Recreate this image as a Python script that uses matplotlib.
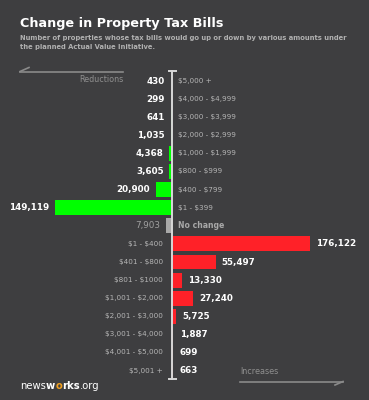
import matplotlib.pyplot as plt

plt.rcParams['text.parse_math'] = False

# reductions (top, drawn to the left), then no change, then increases
red_labels = ['$5,000 +', '$4,000 - $4,999', '$3,000 - $3,999', '$2,000 - $2,999',
              '$1,000 - $1,999', '$800 - $999', '$400 - $799', '$1 - $399']
red_values = [430, 299, 641, 1035, 4368, 3605, 20900, 149119]
same_label = 'No change'
same_value = 7903
inc_labels = ['$1 - $400', '$401 - $800', '$801 - $1000', '$1,001 - $2,000',
              '$2,001 - $3,000', '$3,001 - $4,000', '$4,001 - $5,000', '$5,001 +']
inc_values = [176122, 55497, 13330, 27240, 5725, 1887, 699, 663]

BG = '#3e3e40'
GREEN = '#00ff00'
RED = '#ff2128'
W, H = 369, 400
scale = 0.000786      # px per property
x0 = 172              # axis position, px
row0, step = 81, 18.1  # first row centre and spacing, px

fig = plt.figure(figsize=(W / 100, H / 100), dpi=100, facecolor=BG)
ax = fig.add_axes([0, 0, 1, 1])
ax.set_facecolor(BG)
ax.set_xlim(-x0 / scale, (W - x0) / scale)
ax.set_ylim((H - row0) / step, -row0 / step)
ax.axis('off')

px = 1 / scale  # one pixel in data units
n_red = len(red_values)
y_red = list(range(n_red))
y_same = n_red
y_inc = [n_red + 1 + i for i in range(len(inc_values))]

ax.barh(y_red, [-v for v in red_values], height=0.82, color=GREEN, zorder=2)
ax.barh([y_same], [-same_value], height=0.82, color='#a8a8a8', zorder=2)
ax.barh(y_inc, inc_values, height=0.82, color=RED, zorder=2)

vfont = dict(color='white', fontsize=6.3, fontweight='bold', va='center')
cfont = dict(color='#b5b5b5', fontsize=5.2, va='center')

for y, v, lab in zip(y_red, red_values, red_labels):
    end = -max(v, 2 * px)
    ax.annotate(f'{v:,}', (end, y), xytext=(-4, 0), textcoords='offset points',
                ha='right', **vfont)
    ax.annotate(lab, (0, y), xytext=(4.3, 0), textcoords='offset points',
                ha='left', **cfont)

ax.annotate(f'{same_value:,}', (-same_value, y_same), xytext=(-4, 0),
            textcoords='offset points', ha='right', color='#a0a0a0',
            fontsize=6.3, va='center')
ax.annotate(same_label, (0, y_same), xytext=(4.3, 0), textcoords='offset points',
            ha='left', color='#a8a8a8', fontsize=5.6, fontweight='bold', va='center')

for y, v, lab in zip(y_inc, inc_values, inc_labels):
    end = max(v, 2 * px)
    ax.annotate(f'{v:,}', (end, y), xytext=(4, 0), textcoords='offset points',
                ha='left', **vfont)
    ax.annotate(lab, (0, y), xytext=(-6.5, 0), textcoords='offset points',
                ha='right', **cfont)

# central axis with caps
top = -0.55
bot = y_inc[-1] + 0.45
ax.plot([0, 0], [top, bot], color='#d8d8d8', lw=1.4, zorder=3)
ax.plot([-3.5 * px, 3.5 * px], [top, top], color='#d8d8d8', lw=1.4, zorder=3)
ax.plot([-3.5 * px, 3.5 * px], [bot, bot], color='#d8d8d8', lw=1.4, zorder=3)

# titles
fig.text(20 / W, 1 - 24 / H, 'Change in Property Tax Bills', color='white',
         fontsize=9.2, fontweight='bold', va='center', ha='left')
fig.text(20 / W, 1 - 42.5 / H,
         'Number of properties whose tax bills would go up or down by various amounts under\n'
         'the planned Actual Value Initiative.',
         color='#b0b0b0', fontsize=4.9, fontweight='semibold', va='center', ha='left',
         linespacing=1.45)


# direction hints
def fx(p):
    return p / W


def fy(p):
    return 1 - p / H


line_c = '#8a8a8a'
fig.add_artist(plt.Line2D([fx(20), fx(123)], [fy(71.5), fy(71.5)], color=line_c, lw=1.2))
fig.add_artist(plt.Line2D([fx(20), fx(29)], [fy(71.5), fy(67.5)], color=line_c, lw=1.2))
fig.text(fx(123), fy(80), 'Reductions', color='#8f8f8f', fontsize=5.8,
         ha='right', va='center')

fig.add_artist(plt.Line2D([fx(240), fx(343)], [fy(381.5), fy(381.5)], color=line_c, lw=1.2))
fig.add_artist(plt.Line2D([fx(335), fx(343)], [fy(385), fy(381.5)], color=line_c, lw=1.2))
fig.text(fx(240), fy(372), 'Increases', color='#8f8f8f', fontsize=5.8,
         ha='left', va='center')

# logo
t = fig.text(fx(20), fy(386), 'news', color='white', fontsize=7.2, va='center', ha='left')
logo_parts = [('w', 'white', 'bold'), ('o', '#f0a020', 'bold'), ('rks', 'white', 'bold'),
              ('.org', 'white', 'normal')]
fig.canvas.draw()
r = fig.canvas.get_renderer()
for s, c, wgt in logo_parts:
    bb = t.get_window_extent(r)
    t = fig.text(bb.x1 / W, fy(386), s, color=c, fontsize=7.2, fontweight=wgt,
                 va='center', ha='left')

fig.savefig('out.png', dpi=100, facecolor=BG)
